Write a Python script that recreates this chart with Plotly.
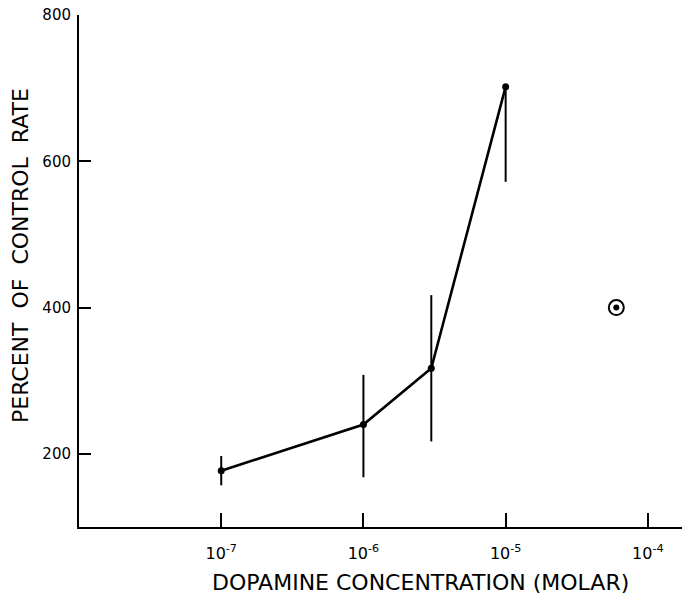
import plotly.graph_objects as go

# Data
conc = [1e-7, 1e-6, 3e-6, 1e-5]
rate = [177, 240, 317, 702]
err_plus = [20, 68, 100, 0]
err_minus = [20, 72, 100, 130]

circ_conc = [6e-5]
circ_rate = [400]

x_tickvals = [1e-7, 1e-6, 1e-5, 1e-4]
x_ticktext = ["10<sup>-7</sup>", "10<sup>-6</sup>", "10<sup>-5</sup>", "10<sup>-4</sup>"]
y_tickvals = [200, 400, 600, 800]

x_title = "DOPAMINE CONCENTRATION (MOLAR)"
y_title = "PERCENT\u00a0 OF\u00a0 CONTROL\u00a0 RATE"

FONT = "DejaVu Sans, Liberation Sans, sans-serif"

fig = go.Figure()
fig.add_trace(go.Scatter(
    x=conc, y=rate, mode="lines+markers",
    line=dict(color="black", width=2.6),
    marker=dict(color="black", size=7),
    error_y=dict(type="data", symmetric=False, array=err_plus, arrayminus=err_minus,
                 color="black", thickness=2, width=0),
    showlegend=False, cliponaxis=False,
))
fig.add_trace(go.Scatter(
    x=circ_conc, y=circ_rate, mode="markers",
    marker=dict(symbol="circle-open", color="black", size=15, line=dict(width=2, color="black")),
    showlegend=False,
))
fig.add_trace(go.Scatter(
    x=circ_conc, y=circ_rate, mode="markers",
    marker=dict(symbol="circle", color="black", size=6),
    showlegend=False,
))

fig.update_layout(
    width=682, height=599,
    margin=dict(l=79, r=0, t=15, b=72),
    paper_bgcolor="white", plot_bgcolor="white",
    font=dict(family=FONT, color="black"),
    xaxis=dict(
        type="log", range=[-8, -3.76],
        tickvals=x_tickvals, ticktext=x_ticktext,
        ticks="inside", ticklen=14, tickwidth=2, tickcolor="black",
        showline=True, linecolor="black", linewidth=2,
        showgrid=False, zeroline=False,
        tickfont=dict(size=16, family=FONT),
        ticklabelstandoff=11,
    ),
    yaxis=dict(
        range=[100, 800],
        tickvals=y_tickvals,
        ticks="inside", ticklen=12, tickwidth=2, tickcolor="black",
        showline=True, linecolor="black", linewidth=2,
        showgrid=False, zeroline=False,
        tickfont=dict(size=15, family=FONT),
        ticklabelstandoff=3,
    ),
    annotations=[
        dict(text=x_title, xref="paper", yref="paper", x=0.567, y=-0.109,
             xanchor="center", yanchor="middle", showarrow=False,
             font=dict(size=22, family=FONT, color="black")),
        dict(text=y_title, xref="paper", yref="paper", x=-0.098, y=0.531,
             xanchor="center", yanchor="middle", showarrow=False, textangle=-90,
             font=dict(size=22, family=FONT, color="black")),
    ],
)

fig.write_html("out.html")
